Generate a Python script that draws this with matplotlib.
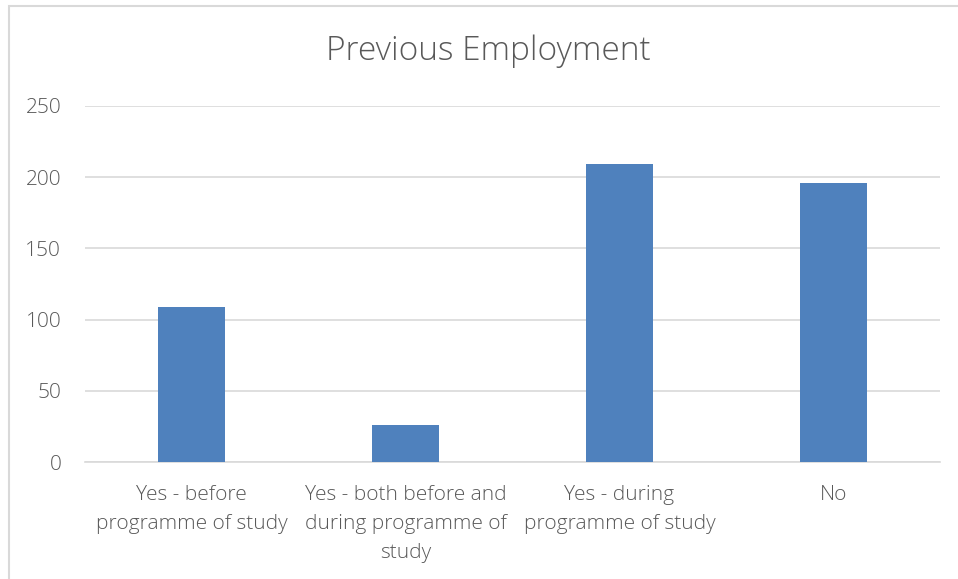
import matplotlib
matplotlib.use("Agg")
import matplotlib.pyplot as plt
from matplotlib.patches import Rectangle

categories = ["Yes - before\nprogramme of study",
              "Yes - both before and\nduring programme of\nstudy",
              "Yes - during\nprogramme of study",
              "No"]
values = [109, 26, 209, 196]
yticks = [0, 50, 100, 150, 200, 250]
title = "Previous Employment"

plt.rcParams['font.family'] = ['Open Sans', 'DejaVu Sans']

fig = plt.figure(figsize=(9.58, 5.79), dpi=100)
fig.patches.append(Rectangle((8.5/958, -0.1), 1.2, (579-6.5)/579 + 0.1,
                             transform=fig.transFigure, fill=False,
                             edgecolor='#d9d9d9', linewidth=1.5))
ax = fig.add_axes([84.9/958, 116.7/579, (940.1-84.9)/958, (462.3-105.7)/579])
x = list(range(len(categories)))
ax.bar(x, values, width=0.312, color='#4f81bd', zorder=3)
ax.set_xlim(-0.5, len(categories) - 0.5)
ax.set_ylim(0, 250)
ax.set_yticks(yticks)
ax.set_xticks(x)
ax.set_xticklabels(categories, fontsize=15, color='#595959', fontweight='light',
                   linespacing=1.6)
ax.set_yticklabels([str(t) for t in yticks], fontsize=15, color='#595959', fontweight='light')
ax.tick_params(axis='both', length=0)
ax.tick_params(axis='y', pad=17)
ax.tick_params(axis='x', pad=16)
ax.grid(axis='y', color='#d9d9d9', linewidth=1.2, zorder=0)
for s in ['top', 'right', 'left']:
    ax.spines[s].set_visible(False)
ax.spines['bottom'].set_color('#d9d9d9')
ax.spines['bottom'].set_linewidth(1.2)
fig.text(488/958, 1 - 51/579, title, ha='center', va='center', fontsize=24,
         color='#595959', fontweight='light')
fig.savefig("out.png", dpi=100)
